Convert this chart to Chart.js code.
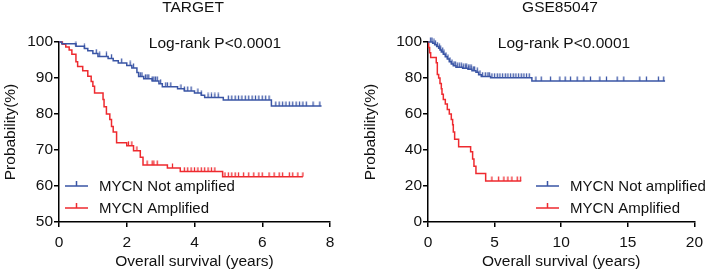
<!DOCTYPE html>
<html>
<head>
<meta charset="utf-8">
<script src="https://cdn.jsdelivr.net/npm/chart.js@4"></script>
<style>
  body { margin: 0; background: #fff; }
  .box { position: absolute; top: 0; height: 276px; }
</style>
</head>
<body>
<div class="box" style="left:0;width:360px"><canvas id="target"></canvas></div>
<div class="box" style="left:360px;width:349px"><canvas id="gse"></canvas></div>
<script>
// TARGET cohort - step times (years) and survival (%)
var tgtNotAmpT = [0, 0.08, 0.5, 0.75, 0.85, 1.0, 1.15, 1.45, 1.6, 1.75, 2.0, 2.15, 2.3, 2.35, 2.5, 2.75, 2.95, 3.05, 3.5, 3.7, 4.0, 4.2, 4.3, 4.85, 6.27, 7.75];
var tgtNotAmpS = [100, 99.5, 98.8, 98.2, 97.6, 96.8, 96.0, 95.4, 94.8, 94.2, 93.5, 92.8, 91.5, 90.4, 89.8, 89.2, 88.4, 87.6, 87.0, 86.4, 85.8, 85.2, 84.6, 83.9, 82.2, 82.2];
var tgtNotAmpCens = [0.5, 0.75, 1.1, 1.2, 1.4, 1.55, 1.85, 2.1, 2.2, 2.4, 2.45, 2.55, 2.6, 2.65, 2.75, 2.8, 2.85, 2.9, 3.0, 3.15, 3.2, 3.3, 3.6, 3.7, 3.8, 3.9, 4.1, 4.2, 4.4, 4.5, 4.6, 4.7, 5.0, 5.1, 5.2, 5.3, 5.4, 5.5, 5.6, 5.7, 5.8, 5.9, 6.0, 6.1, 6.2, 6.4, 6.5, 6.6, 6.7, 6.8, 6.9, 7.0, 7.1, 7.2, 7.3, 7.5, 7.7];

var tgtAmpT = [0, 0.1, 0.2, 0.3, 0.38, 0.5, 0.55, 0.7, 0.85, 0.95, 1.0, 1.05, 1.3, 1.33, 1.4, 1.5, 1.55, 1.6, 1.7, 2.0, 2.2, 2.4, 2.48, 3.2, 3.58, 4.83, 7.2];
var tgtAmpS = [100, 99.4, 98.6, 97.8, 96.6, 94.5, 93.2, 92.0, 90.5, 89.0, 87.7, 85.8, 84.0, 82.0, 80.0, 78.5, 76.5, 75.0, 72.0, 71.2, 69.8, 68.0, 65.8, 65.0, 64.0, 62.6, 62.6];
var tgtAmpCens = [2.05, 2.15, 2.3, 2.6, 2.75, 2.8, 2.9, 3.35, 3.7, 3.8, 3.9, 4.0, 4.1, 4.2, 4.3, 4.4, 4.5, 4.6, 4.9, 5.0, 5.1, 5.2, 5.3, 5.45, 5.6, 5.75, 5.9, 6.0, 6.2, 6.35, 6.5, 6.6, 6.8, 6.9, 7.05, 7.2];

// GSE85047 cohort
var gseNotAmpT = [0, 0.35, 0.5, 0.65, 0.8, 0.9, 1.0, 1.15, 1.3, 1.45, 1.6, 1.75, 1.9, 2.1, 2.6, 3.0, 3.3, 3.6, 3.8, 4.0, 4.7, 7.8, 17.8];
var gseNotAmpS = [100, 99.3, 98.5, 97.5, 96.5, 95.5, 94.5, 93.2, 91.8, 90.5, 89.0, 87.8, 86.8, 86.0, 85.4, 84.8, 84.0, 83.2, 81.8, 80.8, 80.2, 78.3, 78.3];
var gseNotAmpCens = [0.2, 0.3, 0.45, 0.55, 0.7, 0.85, 0.95, 1.1, 1.2, 1.35, 1.5, 1.65, 1.8, 1.95, 2.05, 2.2, 2.35, 2.5, 2.65, 2.8, 2.9, 3.05, 3.15, 3.25, 3.4, 3.5, 3.7, 3.9, 4.1, 4.3, 4.5, 4.6, 4.8, 5.0, 5.2, 5.4, 5.6, 5.8, 6.0, 6.2, 6.4, 6.6, 6.8, 7.0, 7.2, 7.4, 7.6, 8.1, 8.5, 9.2, 9.9, 10.3, 10.7, 11.2, 11.7, 12.2, 12.9, 13.4, 14.2, 14.7, 15.9, 16.4, 17.3, 17.7];

var gseAmpT = [0, 0.05, 0.12, 0.2, 0.62, 0.7, 0.8, 0.9, 1.0, 1.05, 1.15, 1.3, 1.45, 1.6, 1.75, 1.85, 1.9, 2.0, 2.3, 3.2, 3.35, 3.45, 3.6, 4.33, 7.0];
var gseAmpS = [100, 97, 94, 91.4, 88.5, 82, 80, 77, 74, 71, 68, 65.5, 62.5, 60, 57, 54, 50, 46, 41.8, 39, 35, 31, 27, 22.8, 22.8];
var gseAmpCens = [4.8, 5.3, 5.7, 6.0, 6.3, 6.7, 6.95];

var seriesNames = ['MYCN Not amplified', 'MYCN Amplified'];
var BLUE = '#3a55a5';
var RED = '#ee2a2f';
var INK = '#111';
var FONT = '"Liberation Sans", Arial, sans-serif';
var FSIZE = 15.5;

function steps(times, surv) {
  var out = [];
  for (var i = 0; i < times.length; i++) out.push({x: times[i], y: surv[i]});
  return out;
}

function survAt(times, surv, t) {
  var s = surv[0];
  for (var i = 0; i < times.length; i++) {
    if (times[i] <= t) s = surv[i];
  }
  return s;
}

function censored(cens, times, surv) {
  return cens.map(function(t) { return {x: t, y: survAt(times, surv, t)}; });
}

// little upward tick used for censored marks
function tickMark(color) {
  var c = document.createElement('canvas');
  c.width = 3; c.height = 10;
  var g = c.getContext('2d');
  g.strokeStyle = color;
  g.lineWidth = 1.3;
  g.beginPath();
  g.moveTo(1.5, 0.5);
  g.lineTo(1.5, 5);
  g.stroke();
  return c;
}

var annotations = {
  id: 'annotations',
  afterDraw: function(chart, args, o) {
    var ctx = chart.ctx;
    ctx.save();
    ctx.fillStyle = INK;
    ctx.font = FSIZE + 'px ' + FONT;
    ctx.textBaseline = 'middle';
    ctx.textAlign = 'center';
    ctx.fillText(o.title, o.titleX, 8);
    ctx.fillText('Log-rank P<0.0001', o.pX, 44);
    ctx.textAlign = 'left';
    ctx.font = '15px ' + FONT;
    var cols = [BLUE, RED];
    for (var i = 0; i < 2; i++) {
      var y = o.legY + i * 22;
      ctx.strokeStyle = cols[i];
      ctx.lineWidth = 1.5;
      ctx.beginPath();
      ctx.moveTo(o.legX, y);
      ctx.lineTo(o.legX + 23, y);
      ctx.moveTo(o.legX + 11.5, y);
      ctx.lineTo(o.legX + 11.5, y - 5);
      ctx.stroke();
      ctx.fillStyle = INK;
      ctx.fillText(seriesNames[i], o.legX + 34, y + 1);
    }
    ctx.restore();
  }
};

function makeChart(id, cfg) {
  var axisFont = {family: FONT, size: FSIZE};
  return new Chart(document.getElementById(id), {
    type: 'line',
    data: {
      datasets: [
        {data: steps(cfg.notT, cfg.notS), borderColor: BLUE, borderWidth: 1.5, stepped: true, pointRadius: 0, fill: false, clip: 6},
        {data: steps(cfg.ampT, cfg.ampS), borderColor: RED, borderWidth: 1.5, stepped: true, pointRadius: 0, fill: false, clip: 6},
        {data: censored(cfg.notC, cfg.notT, cfg.notS), showLine: false, pointStyle: tickMark(BLUE), pointRadius: 3, clip: 6},
        {data: censored(cfg.ampC, cfg.ampT, cfg.ampS), showLine: false, pointStyle: tickMark(RED), pointRadius: 3, clip: 6}
      ]
    },
    options: {
      responsive: true,
      maintainAspectRatio: false,
      animation: false,
      layout: {padding: {top: 42, right: cfg.padRight, left: 0, bottom: 0}},
      plugins: {
        legend: {display: false},
        tooltip: {enabled: false},
        annotations: cfg.ann
      },
      scales: {
        x: {
          type: 'linear',
          min: 0, max: cfg.xMax,
          ticks: {stepSize: cfg.xStep, color: INK, font: axisFont, padding: 6},
          grid: {drawOnChartArea: false, tickLength: 5, color: '#000', lineWidth: 1.5},
          border: {color: '#000', width: 1.5},
          title: {display: true, text: 'Overall survival (years)', color: INK, font: axisFont, padding: {top: 0, bottom: 5}},
          afterFit: function(s) { s.height = 54; }
        },
        y: {
          min: cfg.yMin, max: 100,
          ticks: {stepSize: cfg.yStep, color: INK, font: axisFont, padding: 1},
          grid: {drawOnChartArea: false, tickLength: 5, color: '#000', lineWidth: 1.5},
          border: {color: '#000', width: 1.5},
          title: {display: true, text: 'Probability(%)', color: INK, font: axisFont, padding: {top: 1, bottom: 0}},
          afterFit: function(s) { s.width = cfg.yWidth; }
        }
      }
    },
    plugins: [annotations]
  });
}

makeChart('target', {
  notT: tgtNotAmpT, notS: tgtNotAmpS, notC: tgtNotAmpCens,
  ampT: tgtAmpT, ampS: tgtAmpS, ampC: tgtAmpCens,
  xMax: 8, xStep: 2, yMin: 50, yStep: 10, yWidth: 59, padRight: 30,
  ann: {title: 'TARGET', titleX: 193, pX: 215, legX: 65, legY: 186}
});

makeChart('gse', {
  notT: gseNotAmpT, notS: gseNotAmpS, notC: gseNotAmpCens,
  ampT: gseAmpT, ampS: gseAmpS, ampC: gseAmpCens,
  xMax: 20, xStep: 5, yMin: 0, yStep: 20, yWidth: 68, padRight: 10,
  ann: {title: 'GSE85047', titleX: 200, pX: 204, legX: 176, legY: 186}
});
</script>
</body>
</html>
